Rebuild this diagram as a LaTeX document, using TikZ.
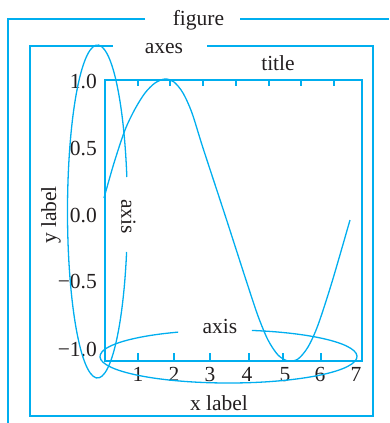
\documentclass[tikz,border=0pt]{standalone}
\usepackage{fontspec}
\setmainfont{Liberation Serif}
\usetikzlibrary{calc, positioning}
\definecolor{skblue}{RGB}{0,174,239}
\definecolor{ink}{RGB}{35,31,32}

\begin{document}
\begin{tikzpicture}[x=1pt, y=-1pt, ln/.style={draw=skblue, line width=1.5pt}, lbl/.style={font=\fontsize{21.5}{26}\selectfont, text=ink, inner sep=0pt, anchor=base}, ytk/.style={lbl, anchor=base east}]
\useasboundingbox (0,0) rectangle (389,423);
% figure frame
\node[lbl] (fig) at (198.5,25.5) {figure};
\draw[ln] (145,19) -- (8,19) -- (8,423);
\draw[ln] (240,19) -- (389,19);
% axes frame
\node[lbl] (axs) at (164,53) {axes};
\draw[ln] (113,46) -- (30,46) -- (30,416) -- (373,416) -- (373,46) -- (207,46);
% plot area
\coordinate (pa) at (105,80);
\coordinate (pb) at (362,361);
\draw[ln] (pa) rectangle (pb);
\node[lbl] (ttl) at (278,70) {title};
\node[lbl] (xlb) at (219,410) {x label};
\node[lbl, rotate=90, anchor=center] (ylb) at (51,215) {y label};
% ticks
\draw[ln] (138,80) -- ++(0,6) (170,80) -- ++(0,6) (203,80) -- ++(0,6) (236,80) -- ++(0,6)
  (269,80) -- ++(0,6) (301,80) -- ++(0,6) (334,80) -- ++(0,6);
\draw[ln] (138,361) -- ++(0,-8) (174,361) -- ++(0,-8) (210,361) -- ++(0,-8)
  (249,361) -- ++(0,-8) (283,361) -- ++(0,-8) (321,361) -- ++(0,-8);
\node[lbl] (xt1) at (138,381) {1};
\node[lbl] (xt2) at (174,381) {2};
\node[lbl] (xt3) at (210,381) {3};
\node[lbl] (xt4) at (247,381) {4};
\node[lbl] (xt5) at (285,381) {5};
\node[lbl] (xt6) at (320,381) {6};
\node[lbl] (xt7) at (356,381) {7};
\node[ytk] (yt1) at (97,88) {1.0};
\node[ytk] (yt2) at (97,155) {0.5};
\node[ytk] (yt3) at (97,222) {0.0};
\node[ytk] (yt4) at (97,288.5) {−0.5};
\node[ytk] (yt5) at (97,356.5) {−1.0};
% the line
\draw[ln, line width=1.3pt] plot[smooth] coordinates {(104,198) (114,163) (125,130) (135,109) (145,93) (155,83) (165,79) (174,82) (183,93) (192,113) (203,148) (225,215) (246,280) (258,316) (268,340) (278,355) (288,361) (298,359) (308,347) (318,325) (332,282) (350,220)};
% axis ellipses
\coordinate (ce1) at (97.5,211.5);
\coordinate (ce2) at (228.5,356.5);
\draw[ln, line width=1.3pt] (ce1) ++(14.08:30 and 166.5) arc[start angle=14.08, end angle=348.04, x radius=30, y radius=166.5];
\draw[ln, line width=1.3pt] (ce2) ++(280.5:128.5 and 26.5) arc[start angle=280.5, end angle=606.9, x radius=128.5, y radius=26.5];
\node[lbl, rotate=-90, anchor=center] (ax1) at (128.5,216.5) {axis};
\node[lbl] (ax2) at (220,333) {axis};
\end{tikzpicture}
\end{document}
